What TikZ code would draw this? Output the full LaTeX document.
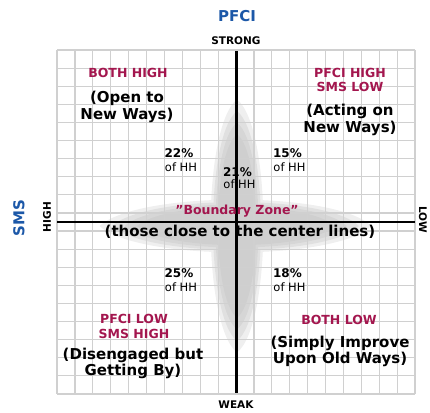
\documentclass[tikz,border=0pt]{standalone}
\usepackage{fontspec}
\setmainfont{DejaVu Sans}
\usepackage{tikz}
\usetikzlibrary{arrows}
\definecolor{zonered}{RGB}{163,22,78}
\definecolor{axisblue}{RGB}{28,88,168}
\definecolor{gridgray}{RGB}{208,208,208}

\begin{document}
\begin{tikzpicture}[x=1pt, y=-1pt, node distance=14pt]
			\tikzstyle{title} = [font=\fontsize{15}{15}\selectfont\bfseries, text=axisblue, inner sep=0pt]
			\tikzstyle{pole} = [font=\fontsize{10.5}{10.5}\selectfont\bfseries, inner sep=0pt]
			\tikzstyle{quad} = [font=\fontsize{12.5}{14.5}\selectfont\bfseries, text=zonered, align=center, inner sep=0pt]
			\tikzstyle{desc} = [font=\fontsize{15}{16.5}\selectfont\bfseries, align=center, inner sep=0pt]
			\tikzstyle{share} = [font=\fontsize{12}{12}\selectfont\bfseries, inner sep=0pt]
			\tikzstyle{ofhh} = [font=\fontsize{11.5}{11.5}\selectfont, inner sep=0pt, xshift=2pt]
			\tikzstyle{gridline} = [gridgray, line width=1.2pt]
			\tikzstyle{axis} = [black, line width=2.4pt]

			\useasboundingbox (0,0) rectangle (430,412);

			% boundary zone
			\foreach \s/\o in {1.1/0.25, 1.0/0.3, 0.9/0.3, 0.8/0.3} {
				\begin{scope}[shift={(237,226)}, scale=\s]
				\fill[black!25, opacity=\o]
				(0,-115) .. controls (32,-90) and (32,90) .. (0,115)
				.. controls (-32,90) and (-32,-90) .. (0,-115)
				(-125,0) .. controls (-90,-32) and (90,-32) .. (122,0)
				.. controls (90,32) and (-90,32) .. (-125,0);
				\end{scope}
			}

			% grid
			\foreach \i in {0,...,20}
				\draw[gridline] ({57+\i*17.9},50) -- ({57+\i*17.9},394);
			\foreach \j in {0,...,19}
				\draw[gridline] (57,{50+\j*18.1}) -- (415,{50+\j*18.1});

			% axes
			\coordinate (top) at (236.5,51);
			\coordinate (bottom) at (236.5,393);
			\coordinate (left) at (57,222);
			\coordinate (right) at (415,222);
			\draw[axis] (top) -- (bottom);
			\draw[axis] (left) -- (right);

			\node[title] (pfci) at (237,16) {PFCI};
			\node[pole] (strong) at (236,41) {STRONG};
			\node[pole] (weak) at (236,405) {WEAK};
			\node[title, rotate=90] (sms) at (19,218) {SMS};
			\node[pole, rotate=90] (high) at (47,217) {HIGH};
			\node[pole, rotate=-90] (low) at (423,220) {LOW};

			\node[quad] (bothhigh) at (128,73) {BOTH HIGH};
			\node[desc] (openways) at (127,107) {(Open to\\New Ways)};
			\node[quad] (pfcihigh) at (350,80) {PFCI HIGH\\SMS LOW};
			\node[desc] (acting) at (350,120) {(Acting on\\New Ways)};
			\node[quad] (pfcilow) at (134,326.5) {PFCI LOW\\SMS HIGH};
			\node[desc] (disengaged) at (133,363.5) {(Disengaged but\\Getting By)};
			\node[quad] (bothlow) at (339,320) {BOTH LOW};
			\node[desc] (improve) at (340,351.5) {(Simply Improve\\Upon Old Ways)};

			\node[share] (p22) at (179,153) {22\%};
			\node[ofhh, below of=p22] (h22) {of HH};
			\node[share] (p15) at (287.5,153) {15\%};
			\node[ofhh, below of=p15] (h15) {of HH};
			\node[share] (p21) at (237.5,172) {21\%};
			\node[ofhh, below of=p21, node distance=12.5pt] (h21) {of HH};
			\node[share] (p25) at (179,273) {25\%};
			\node[ofhh, below of=p25] (h25) {of HH};
			\node[share] (p18) at (287.5,273) {18\%};
			\node[ofhh, below of=p18] (h18) {of HH};

			\node[quad] (zone) at (237,211) {{\char34}Boundary Zone{\char34}};
			\node[desc] (closeto) at (240,232) {(those close to the center lines)};

\end{tikzpicture}
\end{document}
